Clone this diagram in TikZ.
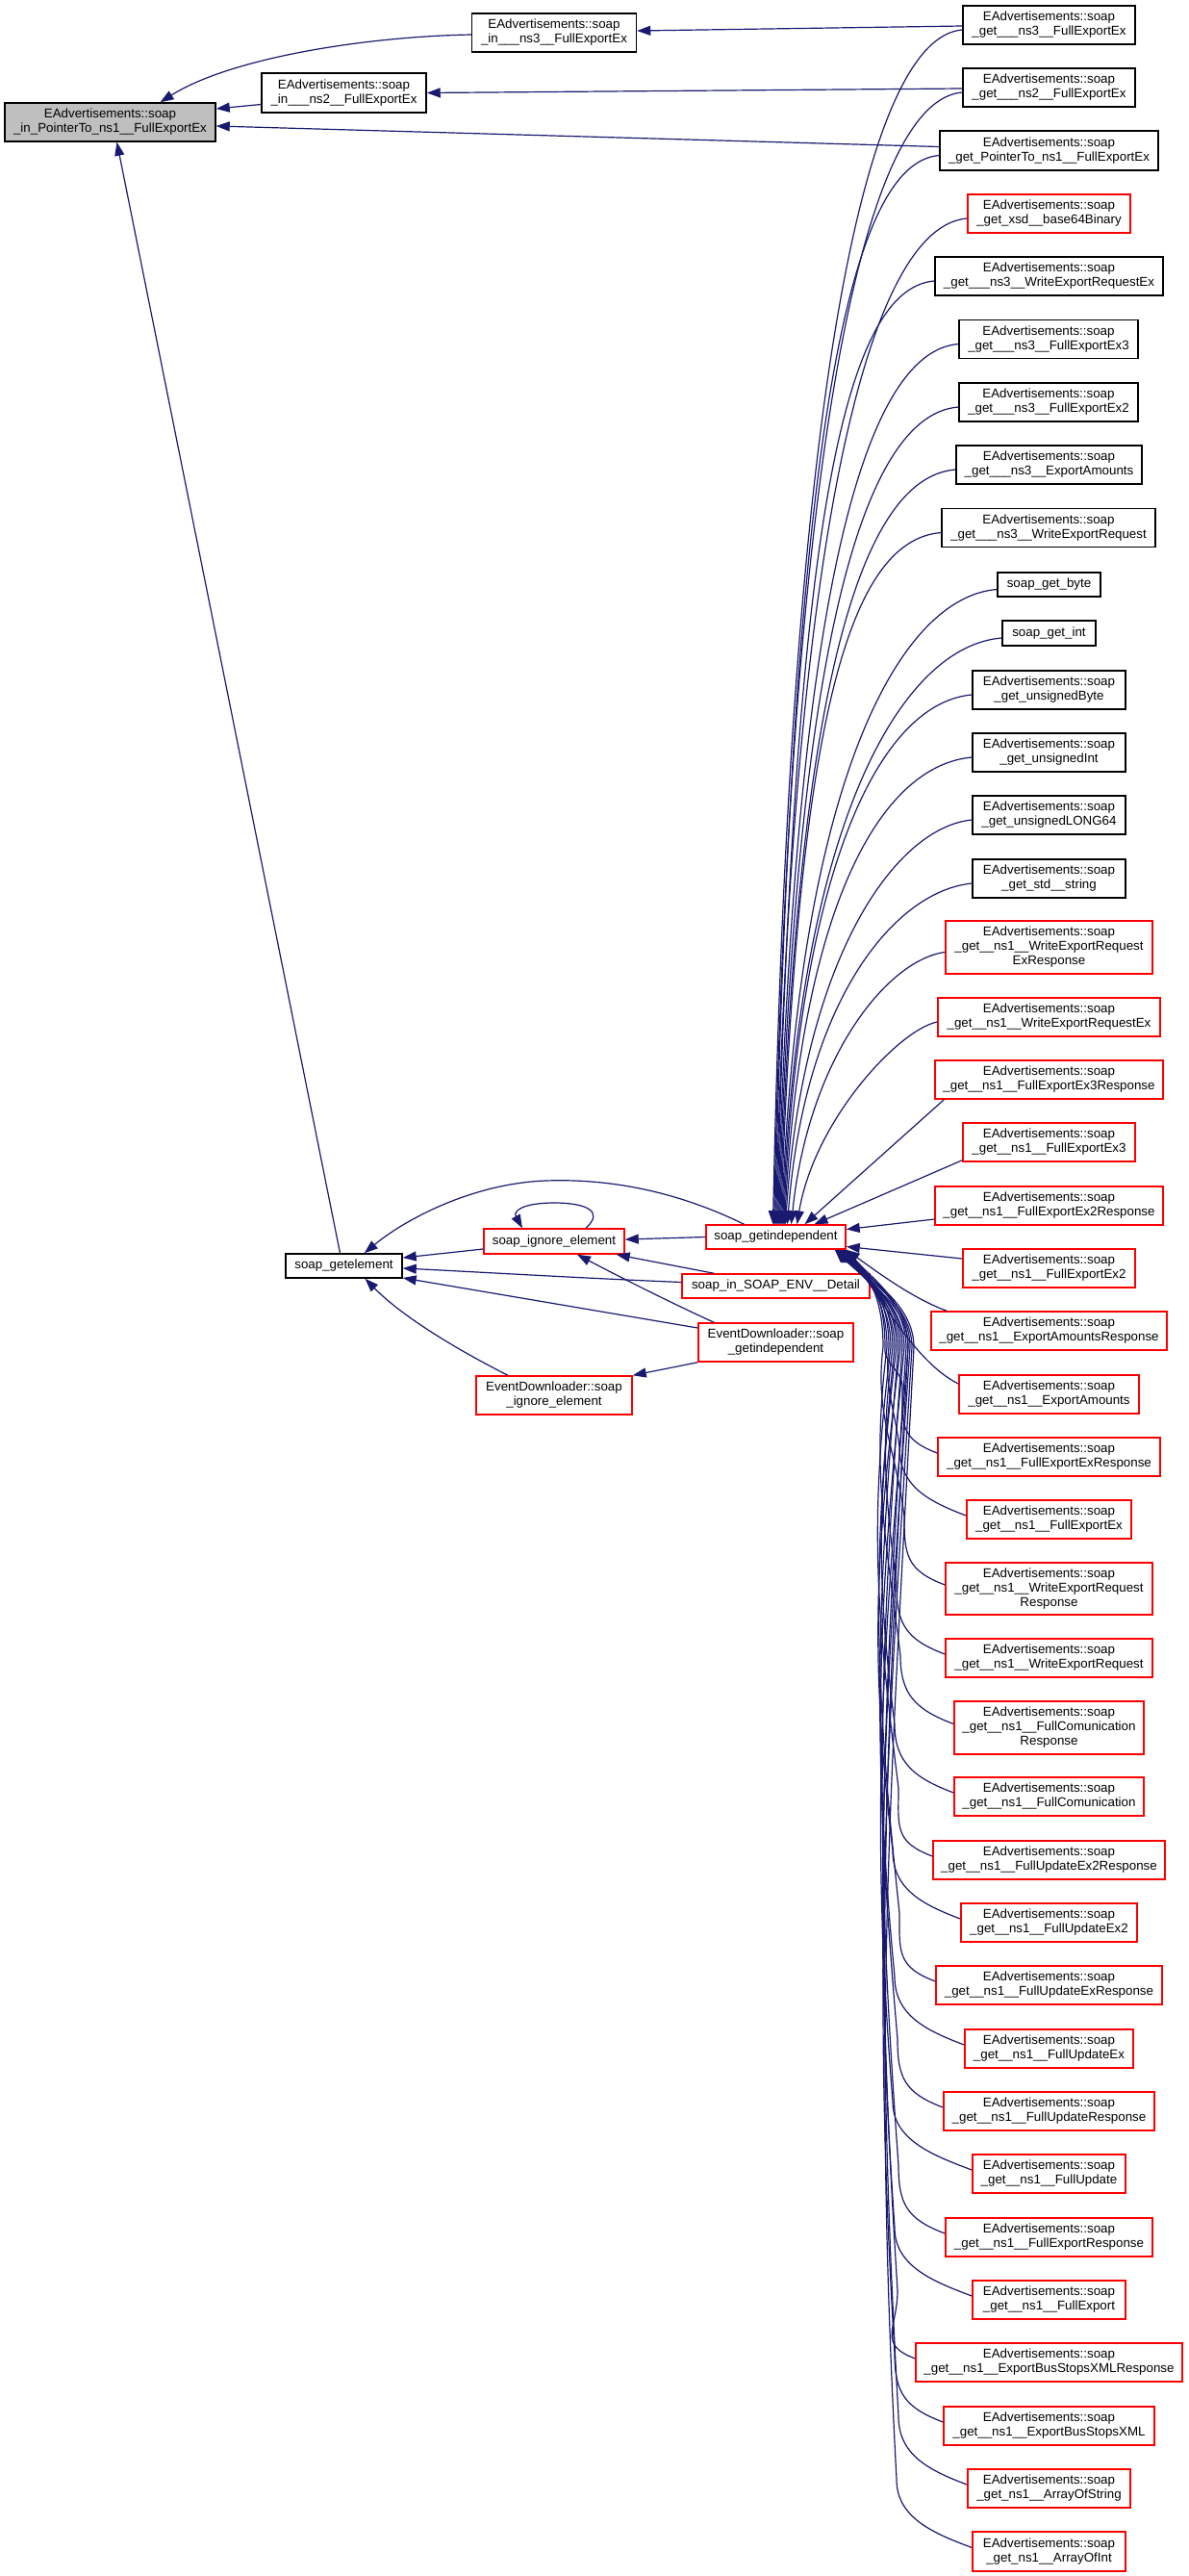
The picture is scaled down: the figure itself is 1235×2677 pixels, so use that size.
\documentclass[tikz,border=0pt]{standalone}
\usepackage{fontspec}
\setmainfont{Liberation Sans}
\usetikzlibrary{arrows.meta,calc}
\definecolor{edgec}{HTML}{191970}
\definecolor{redc}{HTML}{FF0000}
\definecolor{rootf}{HTML}{BFBFBF}
\newcommand{\EA}{EAdvertisements::soap\\}
\newcommand{\mynode}[7]{\node[#6, minimum width={#4*0.75pt}, minimum height={#5*0.75pt}] (#1) at (#2,#3) {#7};}
\newcommand{\uedge}[5]{\draw[edge] ($(#1.west)+(0,5)$) .. controls +(#3,8) and +(18,{-#4*(1273-#2)}) .. ($(gi.north)+(#5,0)$);}
\newcommand{\bedge}[5]{\draw[edge] ($(#1.west)+(0,-4)$) .. controls +(-40,-15) and +(0,40) .. (#3,{#2-75}) .. controls +({-min(25,0.05*(#2-1475))},{-0.4*(#2-1475)}) and +({-min(25,0.05*(#2-1475))},{0.4*(#2-1475)}) .. (#4,1400) .. controls +(0,-45) and +(30,30) .. ($(gi.south east)+(#5,0)$);}
\begin{document}
\begin{tikzpicture}[x=0.75pt,y=-0.75pt,
 box/.style={draw=black, line width=1.1pt, fill=white, inner sep=0pt, align=center, font=\fontsize{10}{11.25}\selectfont},
 rbox/.style={box, draw=redc},
 gbox/.style={box, fill=rootf},
 edge/.style={draw=edgec, line width=0.9pt, -{Triangle[length=10.5pt,width=7.5pt]}}]
\useasboundingbox (0,0) rectangle (1235,2677);
% left nodes
\mynode{root}{114.5}{127}{219}{40}{gbox}{\EA\_in\_PointerTo\_ns1\_\_FullExportEx}
\mynode{in3}{576}{34}{171}{40}{box}{\EA\_in\_\_\_ns3\_\_FullExportEx}
\mynode{in2}{357.5}{96.5}{171}{41}{box}{\EA\_in\_\_\_ns2\_\_FullExportEx}
\mynode{sge}{357.5}{1315.5}{121}{25}{box}{soap\_getelement}
\mynode{sie}{576}{1290}{146}{26}{rbox}{soap\_ignore\_element}
\mynode{edie}{576}{1450}{162}{40}{rbox}{EventDownloader::soap\\\_ignore\_element}
\mynode{gi}{806.5}{1285.5}{145}{25}{rbox}{soap\_getindependent}
\mynode{det}{806.5}{1336.5}{195}{25}{rbox}{soap\_in\_SOAP\_ENV\_\_Detail}
\mynode{edgi}{806.5}{1395}{161}{40}{rbox}{EventDownloader::soap\\\_getindependent}
% right nodes
\mynode{r1}{1090.5}{26}{179}{40}{box}{\EA\_get\_\_\_ns3\_\_FullExportEx}
\mynode{r2}{1090.5}{91}{179}{40}{box}{\EA\_get\_\_\_ns2\_\_FullExportEx}
\mynode{r3}{1090.5}{156.5}{227}{41}{box}{\EA\_get\_PointerTo\_ns1\_\_FullExportEx}
\mynode{r4}{1090.5}{222}{169}{40}{rbox}{\EA\_get\_xsd\_\_base64Binary}
\mynode{r5}{1090.5}{287}{237}{40}{box}{\EA\_get\_\_\_ns3\_\_WriteExportRequestEx}
\mynode{r6}{1090}{352.5}{186}{40}{box}{\EA\_get\_\_\_ns3\_\_FullExportEx3}
\mynode{r7}{1090}{418}{186}{40}{box}{\EA\_get\_\_\_ns3\_\_FullExportEx2}
\mynode{r8}{1090.5}{483}{193}{40}{box}{\EA\_get\_\_\_ns3\_\_ExportAmounts}
\mynode{r9}{1090}{548.5}{222}{40}{box}{\EA\_get\_\_\_ns3\_\_WriteExportRequest}
\mynode{r10}{1090.5}{607.5}{107}{25}{box}{soap\_get\_byte}
\mynode{r11}{1090.5}{658}{97}{26}{box}{soap\_get\_int}
\mynode{r12}{1090.5}{717}{159}{40}{box}{\EA\_get\_unsignedByte}
\mynode{r13}{1090.5}{782}{159}{40}{box}{\EA\_get\_unsignedInt}
\mynode{r14}{1090.5}{847}{159}{40}{box}{\EA\_get\_unsignedLONG64}
\mynode{r15}{1090.5}{913}{159}{40}{box}{\EA\_get\_std\_\_string}
\mynode{r16}{1090.5}{984.5}{215}{55}{rbox}{\EA\_get\_\_ns1\_\_WriteExportRequest\\ExResponse}
\mynode{r17}{1090.5}{1057}{231}{40}{rbox}{\EA\_get\_\_ns1\_\_WriteExportRequestEx}
\mynode{r18}{1090.5}{1122}{237}{40}{rbox}{\EA\_get\_\_ns1\_\_FullExportEx3Response}
\mynode{r19}{1090.5}{1187}{179}{40}{rbox}{\EA\_get\_\_ns1\_\_FullExportEx3}
\mynode{r20}{1090.5}{1253}{237}{40}{rbox}{\EA\_get\_\_ns1\_\_FullExportEx2Response}
\mynode{r21}{1090.5}{1318}{179}{40}{rbox}{\EA\_get\_\_ns1\_\_FullExportEx2}
\mynode{r22}{1090.5}{1383}{245}{40}{rbox}{\EA\_get\_\_ns1\_\_ExportAmountsResponse}
\mynode{r23}{1090.5}{1449}{187}{40}{rbox}{\EA\_get\_\_ns1\_\_ExportAmounts}
\mynode{r24}{1090.5}{1514}{231}{40}{rbox}{\EA\_get\_\_ns1\_\_FullExportExResponse}
\mynode{r25}{1090.5}{1579}{171}{40}{rbox}{\EA\_get\_\_ns1\_\_FullExportEx}
\mynode{r26}{1090.5}{1651}{215}{54}{rbox}{\EA\_get\_\_ns1\_\_WriteExportRequest\\Response}
\mynode{r27}{1090.5}{1723}{215}{40}{rbox}{\EA\_get\_\_ns1\_\_WriteExportRequest}
\mynode{r28}{1090.5}{1795.5}{197}{55}{rbox}{\EA\_get\_\_ns1\_\_FullComunication\\Response}
\mynode{r29}{1090.5}{1867}{197}{40}{rbox}{\EA\_get\_\_ns1\_\_FullComunication}
\mynode{r30}{1090.5}{1933}{241}{40}{rbox}{\EA\_get\_\_ns1\_\_FullUpdateEx2Response}
\mynode{r31}{1090.5}{1998}{183}{40}{rbox}{\EA\_get\_\_ns1\_\_FullUpdateEx2}
\mynode{r32}{1090.5}{2063}{235}{40}{rbox}{\EA\_get\_\_ns1\_\_FullUpdateExResponse}
\mynode{r33}{1090.5}{2129}{175}{40}{rbox}{\EA\_get\_\_ns1\_\_FullUpdateEx}
\mynode{r34}{1090.5}{2194}{219}{40}{rbox}{\EA\_get\_\_ns1\_\_FullUpdateResponse}
\mynode{r35}{1090.5}{2259}{159}{40}{rbox}{\EA\_get\_\_ns1\_\_FullUpdate}
\mynode{r36}{1090.5}{2325}{215}{40}{rbox}{\EA\_get\_\_ns1\_\_FullExportResponse}
\mynode{r37}{1090.5}{2390}{159}{40}{rbox}{\EA\_get\_\_ns1\_\_FullExport}
\mynode{r38}{1090.5}{2455}{277}{40}{rbox}{\EA\_get\_\_ns1\_\_ExportBusStopsXMLResponse}
\mynode{r39}{1090.5}{2521}{219}{40}{rbox}{\EA\_get\_\_ns1\_\_ExportBusStopsXML}
\mynode{r40}{1090.5}{2586}{169}{40}{rbox}{\EA\_get\_ns1\_\_ArrayOfString}
\mynode{r41}{1090.5}{2651.5}{159}{41}{rbox}{\EA\_get\_ns1\_\_ArrayOfInt}
% edges into the root
\draw[edge] ($(in3.west)+(0,2)$) .. controls (380,38) and (240,60) .. ($(root.north)+(52,0)$);
\draw[edge] ($(in2.west)+(0,12)$) -- ($(root.east)+(0,-14)$);
\draw[edge] ($(r3.west)+(0,-4)$) -- ($(root.east)+(0,4)$);
\draw[edge] ($(sge.north)+(-4,0)$) -- ($(root.south)+(7,0)$);
\draw[edge] ($(r1.west)+(0,1)$) -- ($(in3.east)+(0,-2)$);
\draw[edge] ($(r2.west)+(0,1)$) -- (in2.east);
% left cluster
\draw[edge] ($(sie.west)+(0,8)$) -- ($(sge.east)+(0,-8.5)$);
\draw[edge] ($(gi.north)+(-33,0)$) .. controls (720,1246) and (650,1224) .. (567,1227) .. controls (490,1230) and (420,1268) .. ($(sge.north east)+(-40,0)$);
\draw[edge] ($(sie.north)+(33,0)$) .. controls +(20,-18) and +(32,0) .. (576,1250) .. controls +(-32,0) and +(-10,-18) .. ($(sie.north)+(-33,0)$);
\draw[edge] (gi.west) -- ($(sie.east)+(0,-2)$);
\draw[edge] ($(det.north west)+(34,0)$) -- ($(sie.south east)+(-9,0)$);
\draw[edge] ($(det.west)+(0,-4)$) .. controls (600,1328) and (500,1322) .. ($(sge.east)+(0,2.5)$);
\draw[edge] ($(edgi.north west)+(17,0)$) .. controls (700,1355) and (650,1330) .. ($(sie.south)+(24,0)$);
\draw[edge] ($(edgi.west)+(0,-15)$) -- ($(sge.east)+(0,12.5)$);
\draw[edge] (edgi.south west) -- (edie.north east);
\draw[edge] ($(edie.north)+(-48,0)$) .. controls (480,1405) and (420,1370) .. ($(sge.south)+(22,0)$);
% right column into soap_getindependent, from above
\uedge{r1}{26}{-100}{0.7}{-3}
\uedge{r2}{91}{-100}{0.7}{-2}
\uedge{r3}{156.5}{-100}{0.7}{-1}
\uedge{r4}{222}{-100}{0.7}{0}
\uedge{r5}{287}{-100}{0.7}{1}
\uedge{r6}{352.5}{-100}{0.7}{2}
\uedge{r7}{418}{-100}{0.7}{3}
\uedge{r8}{483}{-100}{0.7}{4}
\uedge{r9}{548.5}{-100}{0.7}{5}
\uedge{r10}{607.5}{-100}{0.7}{6}
\uedge{r11}{658}{-100}{0.7}{7}
\uedge{r12}{717}{-90}{0.7}{8}
\uedge{r13}{782}{-90}{0.7}{9}
\uedge{r14}{847}{-80}{0.65}{10}
\uedge{r15}{913}{-80}{0.65}{12}
\uedge{r16}{984.5}{-60}{0.6}{16}
\uedge{r17}{1057}{-40}{0.5}{22}
\draw[edge] ($(r18.south west)+(10,0)$) -- ($(gi.north)+(30,0)$);
\draw[edge] ($(r19.south west)+(0,-2)$) -- ($(gi.north)+(40,0)$);
\draw[edge] ($(r20.west)+(0,14)$) -- ($(gi.east)+(0,-8)$);
\draw[edge] ($(r21.west)+(0,-10)$) -- ($(gi.east)+(0,10)$);
\draw[edge] ($(r22.north west)+(17,0)$) .. controls (950,1350) and (912,1322) .. (gi.south east);
\draw[edge] ($(r23.west)+(0,-11)$) .. controls +(-45,-22) and +(35,45) .. ($(gi.south east)+(-2,0)$);
% right column into soap_getindependent, from below
\bedge{r24}{1514}{938}{920}{-1}
\bedge{r25}{1579}{935}{924}{-2}
\bedge{r26}{1651}{940}{918}{-3}
\bedge{r27}{1723}{932}{928}{-4}
\bedge{r28}{1795.5}{936}{922}{-5}
\bedge{r29}{1867}{930}{932}{-6}
\bedge{r30}{1933}{934}{926}{-7}
\bedge{r31}{1998}{928}{936}{-8}
\bedge{r32}{2063}{935}{930}{-9}
\bedge{r33}{2129}{930}{940}{-10}
\bedge{r34}{2194}{933}{934}{-11}
\bedge{r35}{2259}{928}{944}{-12}
\bedge{r36}{2325}{934}{938}{-8}
\bedge{r37}{2390}{930}{946}{-6}
\bedge{r38}{2455}{933}{942}{-4}
\bedge{r39}{2521}{930}{948}{-10}
\bedge{r40}{2586}{934}{944}{-2}
\bedge{r41}{2651.5}{932}{950}{-7}
\end{tikzpicture}
\end{document}
